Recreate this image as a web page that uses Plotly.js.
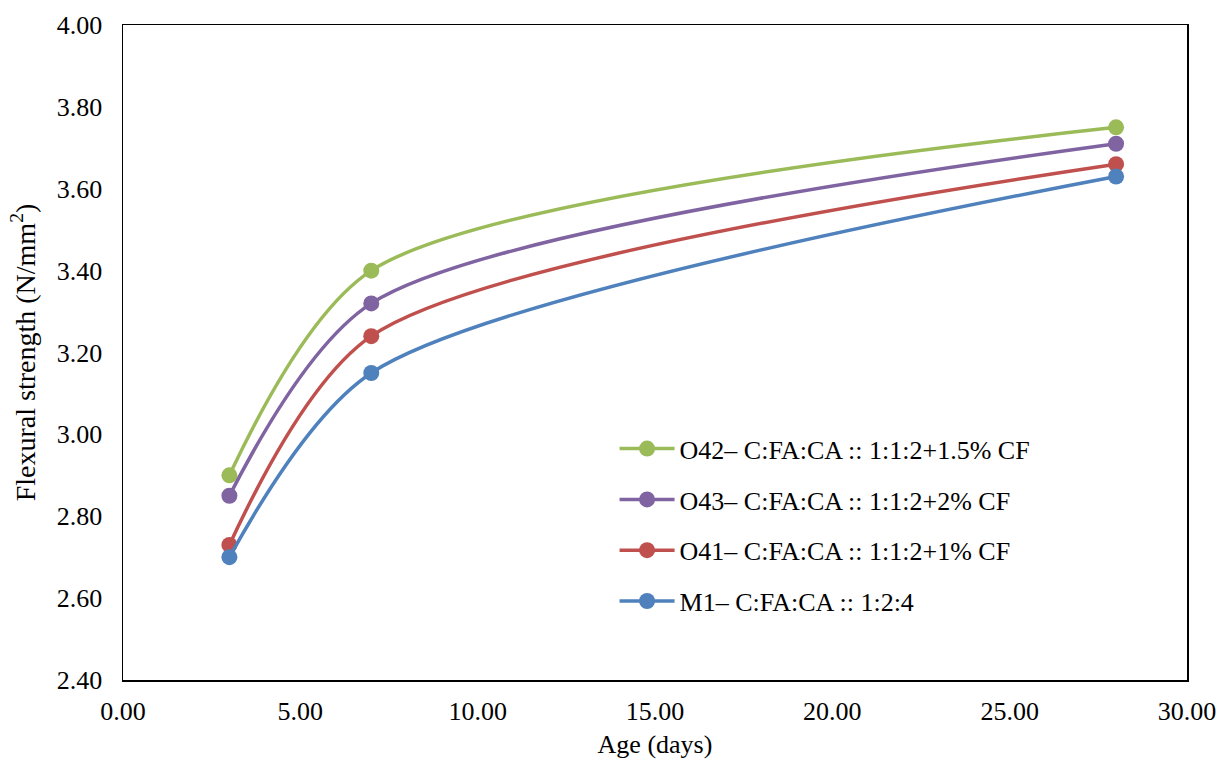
<!DOCTYPE html>
<html>
<head>
<meta charset="utf-8">
<script src="https://cdn.plot.ly/plotly-3.0.1.min.js"></script>
<style>html,body{margin:0;padding:0;background:#fff}#chart{width:1219px;height:762px}</style>
</head>
<body>
<div id="chart"></div>
<script>
const ages = [3, 7, 28];
const seriesNames = [
  "O42\u2013 C:FA:CA :: 1:1:2+1.5% CF",
  "O43\u2013 C:FA:CA :: 1:1:2+2% CF",
  "O41\u2013 C:FA:CA :: 1:1:2+1% CF",
  "M1\u2013 C:FA:CA :: 1:2:4"
];
const o42 = [2.90, 3.40, 3.75];
const o43 = [2.85, 3.32, 3.71];
const o41 = [2.73, 3.24, 3.66];
const m1  = [2.70, 3.15, 3.63];
const colors = ["#9BBB59", "#8064A2", "#C0504D", "#4F81BD"];
const allValues = [o42, o43, o41, m1];

const traces = allValues.map((vals, i) => ({
  x: ages, y: vals, name: seriesNames[i], type: "scatter", mode: "lines+markers",
  line: {color: colors[i], width: 3.5, shape: "spline", smoothing: 0.8},
  marker: {color: colors[i], size: 16},
  legendgroup: "g" + i
}));

const font = "'Liberation Serif', 'Times New Roman', serif";
const layout = {
  width: 1219, height: 762,
  margin: {l: 123, r: 32, t: 25, b: 82},
  paper_bgcolor: "#fff", plot_bgcolor: "#fff",
  font: {family: font, color: "#000", size: 26},
  showlegend: true,
  legend: {
    x: 0.462, y: 0.389, xanchor: "left", yanchor: "top",
    bgcolor: "rgba(0,0,0,0)", font: {family: font, size: 26, color: "#000"},
    traceorder: "grouped", tracegroupgap: 14, itemwidth: 55
  },
  xaxis: {
    range: [0, 30], dtick: 5, tick0: 0, tickformat: ".2f",
    showgrid: false, zeroline: false, showline: true, linecolor: "#000", linewidth: 1.5, mirror: true,
    ticks: "", tickfont: {family: font, size: 26}, ticklabelstandoff: 7,
    title: {text: "Age (days)", font: {family: font, size: 26}, standoff: 10}
  },
  yaxis: {
    range: [2.4, 4.0], dtick: 0.2, tick0: 2.4, tickformat: ".2f",
    showgrid: false, zeroline: false, showline: true, linecolor: "#000", linewidth: 1.5, mirror: true,
    ticks: "", tickfont: {family: font, size: 26}, ticklabelstandoff: 14,
    title: {text: "Flexural strength (N/mm<sup>2</sup>)", font: {family: font, size: 28}, standoff: 13}
  }
};
Plotly.newPlot("chart", traces, layout, {displayModeBar: false, staticPlot: true});
</script>
</body>
</html>
